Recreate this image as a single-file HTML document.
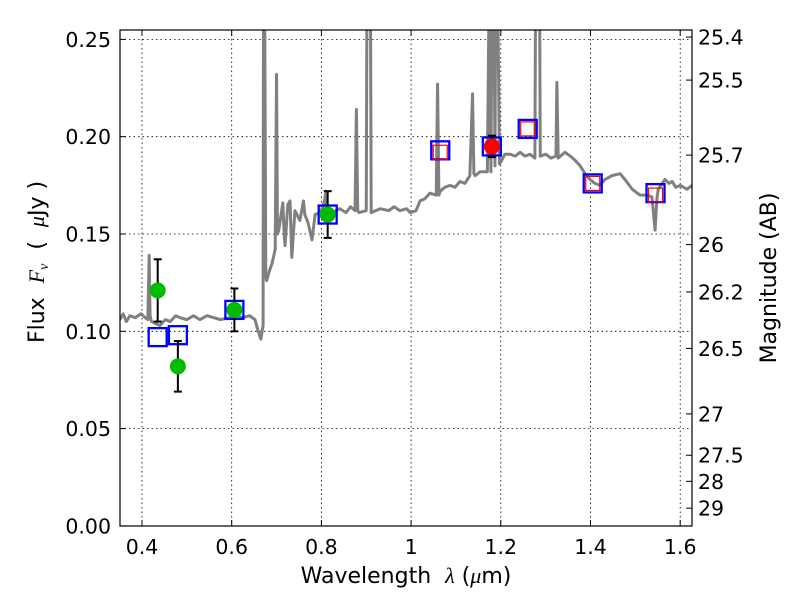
<!DOCTYPE html>
<html><head><meta charset="utf-8"><style>
body{margin:0;background:#fff}
svg text{font-family:"DejaVu Sans","Liberation Sans",sans-serif;fill:#000}
</style></head><body>
<svg id="chart" width="800" height="600" xmlns="http://www.w3.org/2000/svg">
<rect width="800" height="600" fill="#fff"/>
<defs><clipPath id="pc"><rect x="120" y="30" width="572" height="496"/></clipPath></defs>
<g id="grid"></g>
<g id="plot" clip-path="url(#pc)"></g>
<rect x="120" y="30" width="572" height="496" fill="none" stroke="#000" stroke-width="1.2"/>
<g id="axes"></g>
<text x="406" y="583" font-size="22" text-anchor="middle">Wavelength&#160;&#160;<tspan font-family="Liberation Serif" font-style="italic">λ</tspan>&#160;(<tspan font-family="Liberation Serif" font-style="italic">μ</tspan>m)</text>
<text transform="translate(44,262) rotate(-90)" font-size="22" text-anchor="middle">Flux&#160;&#160;<tspan font-family="Liberation Serif" font-style="italic">F<tspan font-size="14" dy="4">ν</tspan></tspan><tspan dy="-4">&#160;&#160;(&#160;&#160;</tspan><tspan font-family="Liberation Serif" font-style="italic">μ</tspan>Jy&#160;)</text>
<text transform="translate(776,278) rotate(-90)" font-size="22" text-anchor="middle">Magnitude (AB)</text>
</svg>
<script>
const specWave=[0.351,0.358,0.365,0.373,0.385,0.398,0.407,0.413,0.416,0.418,0.421,0.430,0.440,0.452,0.463,0.475,0.485,0.500,0.515,0.529,0.545,0.560,0.575,0.596,0.610,0.625,0.640,0.652,0.659,0.665,0.670,0.671,0.673,0.676,0.678,0.684,0.690,0.697,0.700,0.702,0.705,0.714,0.717,0.719,0.725,0.730,0.734,0.741,0.752,0.760,0.763,0.770,0.779,0.786,0.797,0.803,0.807,0.810,0.812,0.825,0.841,0.855,0.865,0.875,0.878,0.881,0.884,0.900,0.902,0.909,0.911,0.931,0.950,0.962,0.975,0.990,0.998,1.011,1.020,1.030,1.042,1.056,1.059,1.062,1.065,1.075,1.087,1.098,1.109,1.120,1.131,1.137,1.140,1.143,1.154,1.170,1.175,1.178,1.181,1.184,1.187,1.189,1.192,1.197,1.200,1.209,1.221,1.232,1.243,1.254,1.265,1.276,1.278,1.286,1.288,1.300,1.312,1.323,1.325,1.328,1.343,1.355,1.365,1.377,1.388,1.399,1.410,1.421,1.432,1.448,1.466,1.477,1.493,1.510,1.526,1.537,1.544,1.548,1.551,1.566,1.575,1.582,1.590,1.600,1.615,1.627];
const specFlux=[0.106,0.109,0.105,0.108,0.107,0.109,0.107,0.106,0.139,0.108,0.105,0.104,0.103,0.106,0.105,0.108,0.107,0.106,0.108,0.106,0.108,0.107,0.106,0.107,0.108,0.107,0.108,0.106,0.100,0.096,0.103,0.30,0.30,0.128,0.126,0.131,0.135,0.142,0.232,0.150,0.152,0.166,0.150,0.144,0.165,0.167,0.138,0.162,0.157,0.167,0.160,0.156,0.147,0.160,0.161,0.164,0.167,0.172,0.162,0.161,0.163,0.161,0.164,0.162,0.214,0.162,0.161,0.162,0.30,0.30,0.161,0.163,0.162,0.164,0.162,0.163,0.161,0.162,0.167,0.168,0.171,0.170,0.227,0.170,0.172,0.174,0.175,0.174,0.177,0.176,0.180,0.222,0.181,0.180,0.182,0.182,0.30,0.182,0.30,0.30,0.185,0.30,0.30,0.186,0.187,0.191,0.191,0.190,0.192,0.190,0.191,0.189,0.30,0.30,0.190,0.191,0.189,0.190,0.228,0.189,0.192,0.190,0.188,0.185,0.181,0.178,0.176,0.175,0.178,0.180,0.181,0.178,0.173,0.170,0.170,0.169,0.152,0.168,0.173,0.178,0.176,0.177,0.174,0.175,0.173,0.175];
const greenWave=[0.435,0.480,0.606,0.814];
const greenFlux=[0.121,0.082,0.111,0.160];
const greenErr=[0.016,0.013,0.011,0.012];
const redWave=[1.180];
const redFlux=[0.195];
const redErr=[0.0055];
const modelWave=[0.435,0.480,0.606,0.814,1.065,1.180,1.260,1.405,1.545];
const modelFlux=[0.097,0.098,0.111,0.160,0.193,0.195,0.204,0.176,0.171];
const redSqWave=[1.065,1.260,1.405,1.545];
const redSqFlux=[0.192,0.204,0.176,0.170];
const xTicks=[0.4,0.6,0.8,1.0,1.2,1.4,1.6];
const xTickLabels=["0.4","0.6","0.8","1","1.2","1.4","1.6"];
const yTicks=[0,0.05,0.10,0.15,0.20,0.25];
const yTickLabels=["0.00","0.05","0.10","0.15","0.20","0.25"];
const magTicks=[25.4,25.5,25.7,26,26.2,26.5,27,27.5,28,29];
const magTickLabels=["25.4","25.5","25.7","26","26.2","26.5","27","27.5","28","29"];

const NS="http://www.w3.org/2000/svg";
const X=v=>142+(v-0.4)*448.5;
const Y=v=>525.9-v*1946;
function mk(tag,attrs,parent){const e=document.createElementNS(NS,tag);for(const k in attrs)e.setAttribute(k,attrs[k]);parent.appendChild(e);return e;}
const grid=document.getElementById('grid'),plot=document.getElementById('plot'),axes=document.getElementById('axes');

xTicks.forEach((t,i)=>{
  const l=mk('line',{x1:X(t),x2:X(t),y1:30,y2:526,stroke:'#000','stroke-width':0.8,'stroke-dasharray':'1.5,3'},grid);
  
  
  mk('line',{x1:X(t),x2:X(t),y1:526,y2:520,stroke:'#000','stroke-width':1},axes);
  mk('line',{x1:X(t),x2:X(t),y1:30,y2:36,stroke:'#000','stroke-width':1},axes);
  const tx=mk('text',{x:X(t),y:554,'font-size':20.5,'text-anchor':'middle'},axes);
  tx.textContent=xTickLabels[i];
  
  
});
yTicks.forEach((t,i)=>{
  const l=mk('line',{x1:120,x2:692,y1:Y(t),y2:Y(t),stroke:'#000','stroke-width':0.8,'stroke-dasharray':'1.5,3'},grid);
  
  
  mk('line',{x1:120,x2:126,y1:Y(t),y2:Y(t),stroke:'#000','stroke-width':1},axes);
  const tx=mk('text',{x:111,y:Y(t)+7.5,'font-size':20.5,'text-anchor':'end'},axes);
  tx.textContent=yTickLabels[i];
  
  
});
magTicks.forEach((m,i)=>{
  const y=Y(Math.pow(10,(23.9-m)/2.5));
  mk('line',{x1:686,x2:692,y1:y,y2:y,stroke:'#000','stroke-width':1},axes);
  const tx=mk('text',{x:698,y:y+7.5,'font-size':20.5},axes);
  tx.textContent=magTickLabels[i];
  
  
});

const sp=mk('polyline',{points:specWave.map((w,i)=>X(w)+','+Y(specFlux[i])).join(' '),fill:'none',stroke:'#808080','stroke-width':3,'stroke-linejoin':'round'},plot);



modelWave.forEach((w,i)=>{
  const r=mk('rect',{x:X(w)-9,y:Y(modelFlux[i])-9,width:18,height:18,fill:'none',stroke:'#0000ff','stroke-width':2.3},plot);
  
  
});
redSqWave.forEach((w,i)=>{
  const r=mk('rect',{x:X(w)-7,y:Y(redSqFlux[i])-7,width:14,height:14,fill:'none',stroke:'#ff0000','stroke-width':1.2},plot);
  
  
});
function pts(ws,fs,es,color,name){
  ws.forEach((w,i)=>{
    const x=X(w),y1=Y(fs[i]+es[i]),y2=Y(fs[i]-es[i]);
    const g=mk('g',{},plot);
    
    
    mk('line',{x1:x,x2:x,y1:y1,y2:y2,stroke:'#000','stroke-width':2},g);
    mk('line',{x1:x-4,x2:x+4,y1:y1,y2:y1,stroke:'#000','stroke-width':2},g);
    mk('line',{x1:x-4,x2:x+4,y1:y2,y2:y2,stroke:'#000','stroke-width':2},g);
    mk('circle',{cx:x,cy:Y(fs[i]),r:8,fill:color},g);
  });
}
pts(greenWave,greenFlux,greenErr,'#00bb00','observed-point');
pts(redWave,redFlux,redErr,'#ff0000','observed-point-red');
</script>
</body></html>
